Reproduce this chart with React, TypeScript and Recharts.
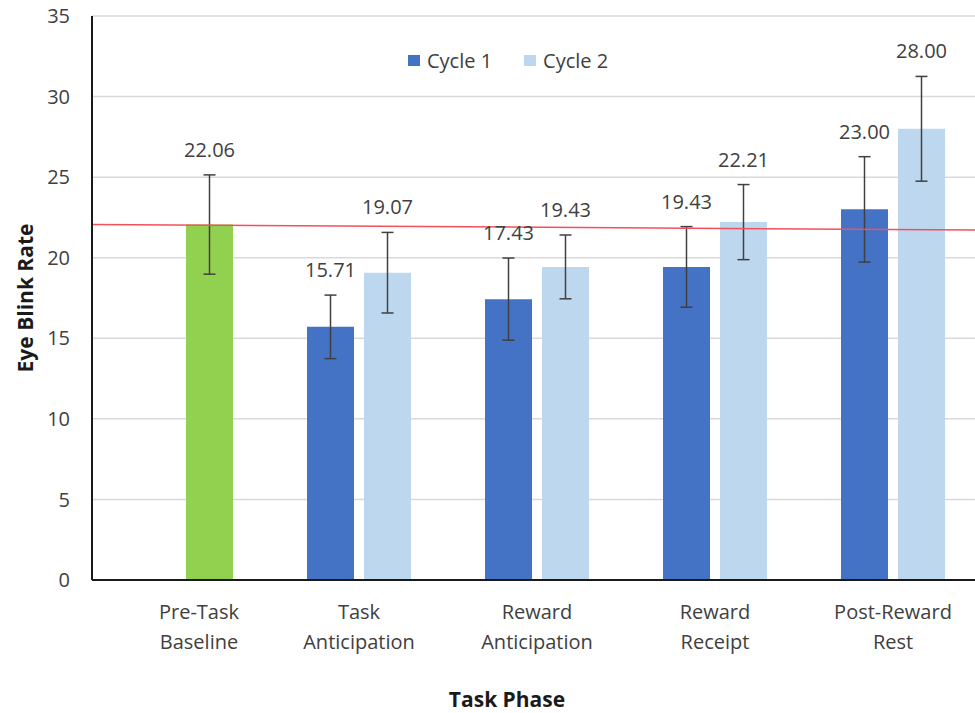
import { BarChart, Bar, XAxis, YAxis, CartesianGrid, ErrorBar, LabelList, ReferenceLine, Cell } from 'recharts'

const phases = ['Pre-Task|Baseline', 'Task|Anticipation', 'Reward|Anticipation', 'Reward|Receipt', 'Post-Reward|Rest']
const cycle1 = [null, 15.71, 17.43, 19.43, 23.0]
const cycle1Err = [null, 1.97, 2.55, 2.5, 3.27]
// the first slot of cycle 2 carries the pre-task baseline (drawn green)
const cycle2 = [22.06, 19.07, 19.43, 22.21, 28.0]
const cycle2Err = [3.08, 2.5, 1.98, 2.33, 3.25]
const baselineLine = [22.06, 21.72]
const yTicks = [0, 5, 10, 15, 20, 25, 30, 35]

const C1 = '#4472c4'
const C2 = '#bdd7ee'
const GREEN = '#92d050'
const TXT = '#404040'
const FONT = '"Open Sans", sans-serif'

const data = phases.map((p, i) => ({
  phase: p,
  c1: cycle1[i],
  c1Err: cycle1Err[i],
  c2: cycle2[i],
  c2Err: cycle2Err[i],
}))

// label sits above the error bar cap; px/unit is taken from the bar itself
const makeLabel = (vals: (number | null)[], errs: (number | null)[]) => (props: any) => {
  const { x, y, width, height, value } = props
  if (value == null) return null
  const err = errs[vals.indexOf(Number(value))] ?? 0
  const pxPerUnit = height / value
  const top = y - err * pxPerUnit
  return (
    <text x={x + width / 2} y={top - 18} textAnchor="middle" fill={TXT} fontSize={20} fontFamily={FONT}>
      {Number(value).toFixed(2)}
    </text>
  )
}

function PhaseTick(props: any) {
  const { x, y, payload, index } = props
  const [a, b] = String(payload.value).split('|')
  const shift = index === 0 ? 18 : 0
  return (
    <text x={x + shift} y={y} textAnchor="middle" fill={TXT} fontSize={20} fontFamily={FONT}>
      <tspan x={x + shift} dy={31}>{a}</tspan>
      <tspan x={x + shift} dy={30}>{b}</tspan>
    </text>
  )
}

function LegendBox() {
  const item = (c: string, t: string) => (
    <div style={{ display: 'flex', alignItems: 'center', marginRight: 32 }}>
      <div style={{ width: 12, height: 11, background: c, marginRight: 7 }} />
      <span style={{ fontSize: 20, color: TXT, fontFamily: FONT }}>{t}</span>
    </div>
  )
  return (
    <div style={{ position: 'absolute', top: 47, left: 408, display: 'flex' }}>
      {item(C1, 'Cycle 1')}
      {item(C2, 'Cycle 2')}
    </div>
  )
}

export default function App() {
  return (
    <div style={{ position: 'absolute', left: 0, top: 0, width: 975, height: 713, overflow: 'hidden', background: '#fff' }}>
      <BarChart
        width={1000}
        height={713}
        data={data}
        margin={{ top: 16, right: 18, bottom: 0, left: 0 }}
        barGap={10}
        barCategoryGap={37}
      >
        <CartesianGrid vertical={false} stroke="#d9d9d9" strokeWidth={1.5} />
        <XAxis
          dataKey="phase"
          height={133}
          tick={<PhaseTick />}
          tickLine={false}
          axisLine={{ stroke: '#1a1a1a', strokeWidth: 2 }}
          interval={0}
          label={{
            content: (p: any) => (
              <text x={p.viewBox.x + 415} y={p.viewBox.y + 127} textAnchor="middle" fill="#1a1a1a" fontSize={21} fontWeight={700} fontFamily={FONT}>
                Task Phase
              </text>
            ),
          }}
        />
        <XAxis xAxisId="ref" type="number" domain={[0, 4]} allowDataOverflow hide />
        <YAxis
          width={92}
          domain={[0, 35]}
          ticks={yTicks}
          tickSize={0}
          tickMargin={22}
          tick={{ fill: TXT, fontSize: 20, fontFamily: FONT }}
          axisLine={{ stroke: '#1a1a1a', strokeWidth: 2 }}
          label={{
            content: (p: any) => {
              const cx = 25
              const cy = p.viewBox.y + p.viewBox.height / 2
              return (
                <text x={cx} y={cy} transform={`rotate(-90 ${cx} ${cy})`} textAnchor="middle" dominantBaseline="central" fill="#1a1a1a" fontSize={21} fontWeight={700} fontFamily={FONT}>
                  Eye Blink Rate
                </text>
              )
            },
          }}
        />
        <Bar dataKey="c1" name="Cycle 1" fill={C1} isAnimationActive={false}>
          <ErrorBar dataKey="c1Err" width={6} strokeWidth={1.5} stroke="#404040" />
          <LabelList dataKey="c1" content={makeLabel(cycle1, cycle1Err)} />
        </Bar>
        <Bar dataKey="c2" name="Cycle 2" fill={C2} isAnimationActive={false}>
          {data.map((d, i) => (
            <Cell key={i} fill={i === 0 ? GREEN : C2} />
          ))}
          <ErrorBar dataKey="c2Err" width={6} strokeWidth={1.5} stroke="#404040" />
          <LabelList dataKey="c2" content={makeLabel(cycle2, cycle2Err)} />
        </Bar>
        <ReferenceLine
          xAxisId="ref"
          segment={[
            { x: 0, y: baselineLine[0] },
            { x: 4, y: baselineLine[1] },
          ]}
          stroke="#f4505a"
          strokeWidth={1.5}
        />
      </BarChart>
      <LegendBox />
    </div>
  )
}
